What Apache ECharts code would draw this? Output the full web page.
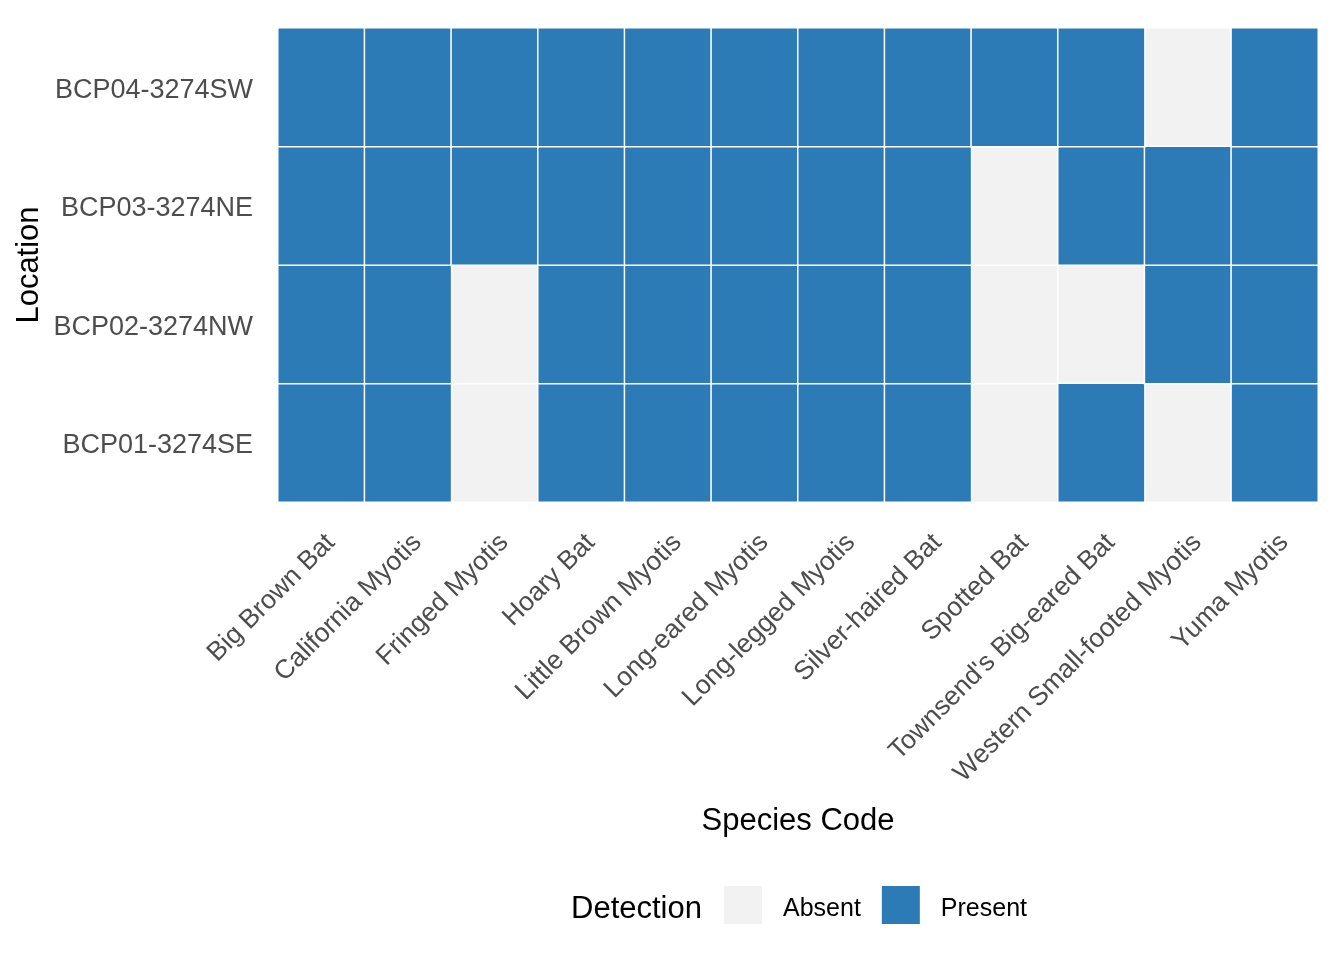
<!DOCTYPE html>
<html>
<head>
<meta charset="utf-8">
<script src="https://cdn.jsdelivr.net/npm/echarts@6/dist/echarts.min.js"></script>
<style>html,body{margin:0;padding:0;background:#fff}#c{width:1344px;height:960px}</style>
</head>
<body>
<div id="c"></div>
<script>
const species = ["Big Brown Bat","California Myotis","Fringed Myotis","Hoary Bat","Little Brown Myotis","Long-eared Myotis","Long-legged Myotis","Silver-haired Bat","Spotted Bat","Townsend's Big-eared Bat","Western Small-footed Myotis","Yuma Myotis"];
const locations = ["BCP01-3274SE","BCP02-3274NW","BCP03-3274NE","BCP04-3274SW"];
// 1 = Present, 0 = Absent; one array per location, in species order
const BCP01 = [1,1,0,1,1,1,1,1,0,1,0,1];
const BCP02 = [1,1,0,1,1,1,1,1,0,0,1,1];
const BCP03 = [1,1,1,1,1,1,1,1,0,1,1,1];
const BCP04 = [1,1,1,1,1,1,1,1,1,1,0,1];
const detections = [BCP01, BCP02, BCP03, BCP04];
const levels = ["Absent","Present"];
const colors = {Absent:"#f2f2f2", Present:"#2c7bb6"};

const FONT = "'Liberation Sans', Arial, sans-serif";
const series = levels.map((lv, li) => {
  const data = [];
  detections.forEach((row, yi) => row.forEach((v, xi) => { if (v === li) data.push([xi, yi, 1]); }));
  return {
    name: lv, type: 'heatmap', data: data,
    itemStyle: {color: colors[lv], borderColor: '#ffffff', borderWidth: 1.5},
    emphasis: {disabled: true}
  };
});

const chart = echarts.init(document.getElementById('c'));
chart.setOption({
  animation: false,
  textStyle: {fontFamily: FONT},
  grid: {left: 278, right: 26, top: 28, bottom: 458},
  xAxis: {
    type: 'category', data: species,
    axisLine: {show: false}, axisTick: {show: false}, splitLine: {show: false},
    axisLabel: {rotate: 45, interval: 0, color: '#4d4d4d', fontSize: 26.5, fontFamily: FONT, margin: 27, align: 'right', verticalAlign: 'top'},
    name: 'Species Code', nameLocation: 'middle', nameGap: 304, nameMoveOverlap: false,
    nameTextStyle: {color: '#000', fontSize: 31, fontFamily: FONT}
  },
  yAxis: {
    type: 'category', data: locations,
    axisLine: {show: false}, axisTick: {show: false}, splitLine: {show: false},
    axisLabel: {
      margin: 25,
      formatter: v => '{a|' + v + '}',
      rich: {a: {color: '#4d4d4d', fontSize: 27, fontFamily: FONT, padding: [6,0,0,0]}}
    },
    name: 'Location', nameLocation: 'middle', nameGap: 233, nameRotate: 90, nameMoveOverlap: false,
    nameTextStyle: {color: '#000', fontSize: 31, fontFamily: FONT}
  },
  legend: {
    data: levels, left: 722, top: 884, orient: 'horizontal', padding: 0,
    icon: 'rect', itemWidth: 40, itemHeight: 40, itemGap: 19,
    formatter: name => '{a|' + name + '}',
    textStyle: {
      color: '#000', fontSize: 25, fontFamily: FONT,
      rich: {a: {color: '#000', fontSize: 25, fontFamily: FONT, padding: [8,0,0,15]}}
    },
    selectedMode: false
  },
  graphic: [{
    type: 'text', left: 571, top: 894,
    style: {text: 'Detection', fill: '#000', fontSize: 31, fontFamily: FONT}
  }],
  series: series
});
</script>
</body>
</html>
